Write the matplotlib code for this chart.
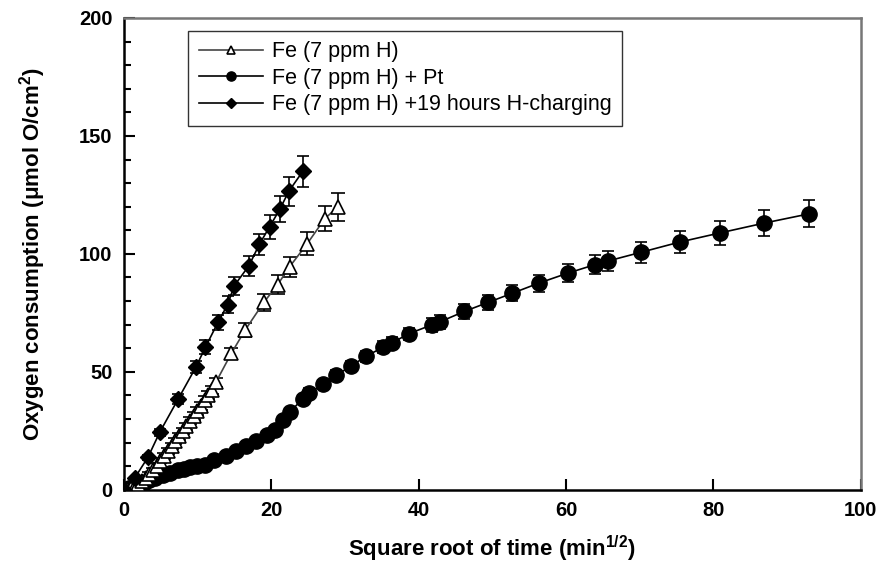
import matplotlib
matplotlib.use("Agg")
from matplotlib import pyplot as plt
from matplotlib.ticker import MultipleLocator

plt.rcParams['font.family'] = ['Liberation Sans', 'DejaVu Sans']
plt.rcParams['mathtext.fontset'] = 'custom'
plt.rcParams['mathtext.rm'] = 'Liberation Sans:bold'
plt.rcParams['mathtext.it'] = 'Liberation Sans:bold'
plt.rcParams['mathtext.bf'] = 'Liberation Sans:bold'

# Fe (7 ppm H)
fe_x = [0.0, 0.5, 1.0, 1.5, 2.0, 2.5, 3.0, 3.5, 4.0, 4.5, 5.0, 5.5, 6.0, 6.5,
        7.0, 7.5, 8.0, 8.5, 9.0, 9.5, 10.0, 10.5, 11.0, 11.5, 12.0,
        12.5, 14.6, 16.5, 19.0, 20.9, 22.5, 24.9, 27.3, 29.1]
fe_y = [0.0, 0.3, 0.8, 1.5, 2.5, 3.6, 5.0, 6.6, 8.4, 10.3, 12.3, 14.3, 16.4, 18.5,
        20.6, 22.7, 24.9, 27.0, 29.2, 31.3, 33.5, 35.7, 37.9, 40.1, 42.3,
        45.5, 57.8, 67.8, 79.4, 87.0, 94.5, 104.3, 115.0, 120.0]
fe_err = [0.2, 0.3, 0.4, 0.5, 0.6, 0.7, 0.8, 0.9, 1.0, 1.0, 1.1, 1.2, 1.2, 1.3,
          1.3, 1.4, 1.4, 1.5, 1.5, 1.6, 1.6, 1.7, 1.7, 1.8, 1.8,
          2.0, 2.5, 3.0, 3.5, 4.0, 4.2, 4.8, 5.5, 6.0]

# Fe (7 ppm H) + Pt
pt_x = [0.0, 0.7, 1.4, 2.1, 2.8, 3.5, 4.3, 5.3, 6.3, 7.4, 8.2, 9.0, 10.0, 11.0,
        12.3, 13.9, 15.3, 16.6, 18.0, 19.4, 20.5, 21.6, 22.5, 24.3, 25.2,
        27.0, 28.8, 30.8, 32.9, 35.2, 36.4, 38.7, 41.8, 42.9, 46.2, 49.4,
        52.7, 56.3, 60.3, 64.0, 65.7, 70.2, 75.4, 80.9, 86.8, 93.0]
pt_y = [0.0, 0.7, 1.5, 2.3, 3.1, 4.0, 5.0, 6.2, 7.2, 8.3, 8.9, 9.6, 10.1, 10.7,
        12.6, 14.5, 16.3, 18.4, 20.6, 23.2, 25.4, 29.5, 32.8, 38.6, 41.1,
        44.7, 48.5, 52.4, 56.6, 60.5, 62.3, 66.2, 69.9, 71.2, 75.6, 79.4,
        83.3, 87.6, 91.9, 95.5, 97.0, 100.7, 105.0, 108.9, 113.0, 117.0]
pt_err = [0.1, 0.2, 0.2, 0.3, 0.3, 0.4, 0.4, 0.5, 0.5, 0.6, 0.6, 0.6, 0.7, 0.7,
          0.8, 0.9, 1.0, 1.0, 1.1, 1.2, 1.3, 1.5, 1.6, 1.8, 1.9,
          2.0, 2.1, 2.2, 2.3, 2.4, 2.5, 2.6, 2.8, 2.9, 3.0, 3.2,
          3.4, 3.6, 3.8, 4.0, 4.1, 4.4, 4.8, 5.0, 5.4, 5.7]

# Fe (7 ppm H) + 19 hours H-charging
hc_x = [0.0, 1.5, 3.3, 4.9, 7.4, 9.8, 11.1, 12.8, 14.1, 15.0, 17.0, 18.4,
        19.8, 21.2, 22.4, 24.3]
hc_y = [0.0, 5.0, 13.8, 24.4, 38.5, 52.0, 60.5, 71.0, 78.5, 86.5, 95.0, 104.0,
        111.5, 119.0, 126.5, 135.0]
hc_err = [0.2, 0.5, 1.0, 1.5, 2.0, 2.5, 2.8, 3.2, 3.5, 3.8, 4.2, 4.6,
          5.0, 5.5, 6.0, 6.6]

fig = plt.figure(figsize=(8.83, 5.79), dpi=100)
ax = fig.add_axes([0.140, 0.154, 0.835, 0.815])

fe = ax.errorbar(fe_x, fe_y, yerr=fe_err, color='#444444', lw=1.2, marker='^', ms=10,
                 mfc='white', mec='black', mew=1.2, ecolor='black', elinewidth=1.2,
                 capsize=5, capthick=1.3, label='Fe (7 ppm H)', zorder=3)
pt = ax.errorbar(pt_x, pt_y, yerr=pt_err, color='black', lw=1.2, marker='o', ms=11,
                 mfc='black', mec='black', ecolor='black', elinewidth=1.2,
                 capsize=4, capthick=1.2, label='Fe (7 ppm H) + Pt', zorder=2)
hc = ax.errorbar(hc_x, hc_y, yerr=hc_err, color='black', lw=1.2, marker='D', ms=8,
                 mfc='black', mec='black', ecolor='black', elinewidth=1.2,
                 capsize=4, capthick=1.2, label='Fe (7 ppm H) +19 hours H-charging',
                 zorder=4)

ax.set_xlim(0, 100)
ax.set_ylim(0, 200)
ax.xaxis.set_major_locator(MultipleLocator(20))
ax.yaxis.set_major_locator(MultipleLocator(50))
ax.yaxis.set_minor_locator(MultipleLocator(10))
ax.tick_params(which='both', direction='in', top=False, right=False, width=1.5)
ax.tick_params(which='major', length=8, labelsize=14.5, pad=8)
ax.tick_params(which='minor', length=5)
for lbl in ax.get_xticklabels() + ax.get_yticklabels():
    lbl.set_fontweight('bold')

for side in ['left', 'bottom']:
    ax.spines[side].set_linewidth(1.8)
for side in ['top', 'right']:
    ax.spines[side].set_linewidth(1.8)
    ax.spines[side].set_color('#777777')

ax.set_xlabel(r'Square root of time (min$^{\mathrm{1/2}}$)', fontsize=16,
              fontweight='bold', labelpad=10)
ax.set_ylabel(r'Oxygen consumption ($\mu$mol O/cm$^{\mathrm{2}}$)', fontsize=16,
              fontweight='bold', labelpad=22)

# legend shows only the line + marker, no error bars
handles = [fe.lines[0], pt.lines[0], hc.lines[0]]
labels = [fe.get_label(), pt.get_label(), hc.get_label()]
leg = ax.legend(handles, labels, loc='upper left', bbox_to_anchor=(0.087, 0.973),
                borderaxespad=0, fontsize=15.5, frameon=True, fancybox=False,
                edgecolor='black', handlelength=3.0, markerscale=0.6,
                borderpad=0.5, labelspacing=0.25, handletextpad=0.4)
leg.get_frame().set_linewidth(1.0)

fig.savefig('out.png', dpi=100)
